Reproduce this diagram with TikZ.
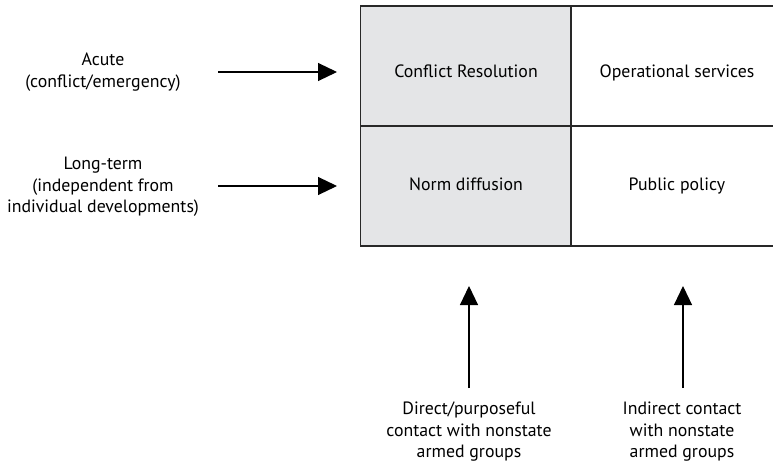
\documentclass[tikz,border=0pt]{standalone}
\usepackage{fontspec}
\setmainfont{PT Sans}
\usetikzlibrary{arrows.meta}
\definecolor{cellgray}{RGB}{228,229,231}
\definecolor{edgegray}{RGB}{40,40,40}
\tikzset{
  cell/.style={draw=edgegray, line width=1.6pt, minimum width=210.5pt, minimum height=120pt, inner sep=0pt, outer sep=0pt},
  shaded/.style={cell, fill=cellgray},
  celltext/.style={anchor=base, inner sep=0pt},
  lbl/.style={align=center, inner sep=0pt},
  arr/.style={line width=1.1pt, -{Triangle[length=19pt,width=18pt]}}
}
\begin{document}
\begin{tikzpicture}[x=1pt,y=-1pt, font=\fontsize{17.8}{21.5}\selectfont]
\useasboundingbox (0,0) rectangle (773,468);
\begin{scope}
\clip (0,0) rectangle (773,468);
\node[shaded] (cr) at (465.75,66) {};
\node[cell] (os) at (676.25,66) {};
\node[shaded] (nd) at (465.75,186) {};
\node[cell] (pp) at (676.25,186) {};
\end{scope}
\node[celltext] (tcr) at (466,78) {Conflict Resolution};
\node[celltext] (tos) at (677,78) {Operational services};
\node[celltext] (tnd) at (466,190) {Norm diffusion};
\node[celltext] (tpp) at (677,190) {Public policy};

\node[lbl] (acute) at (103,72) {Acute\\(conflict/emergency)};
\node[lbl] (long) at (103,187) {Long-term\\(independent from\\individual developments)};
\node[lbl] (direct) at (469,432) {Direct/purposeful\\contact with nonstate\\armed groups};
\node[lbl] (indirect) at (682,432) {Indirect contact\\with nonstate\\armed groups};

\coordinate (a1s) at (218,72);
\coordinate (a1e) at (337,72);
\coordinate (a2s) at (218,186);
\coordinate (a2e) at (337,186);
\coordinate (a3s) at (469,388);
\coordinate (a3e) at (469,286);
\coordinate (a4s) at (683,388);
\coordinate (a4e) at (683,286);
\draw[arr] (a1s) -- (a1e);
\draw[arr] (a2s) -- (a2e);
\draw[arr] (a3s) -- (a3e);
\draw[arr] (a4s) -- (a4e);
\end{tikzpicture}
\end{document}
